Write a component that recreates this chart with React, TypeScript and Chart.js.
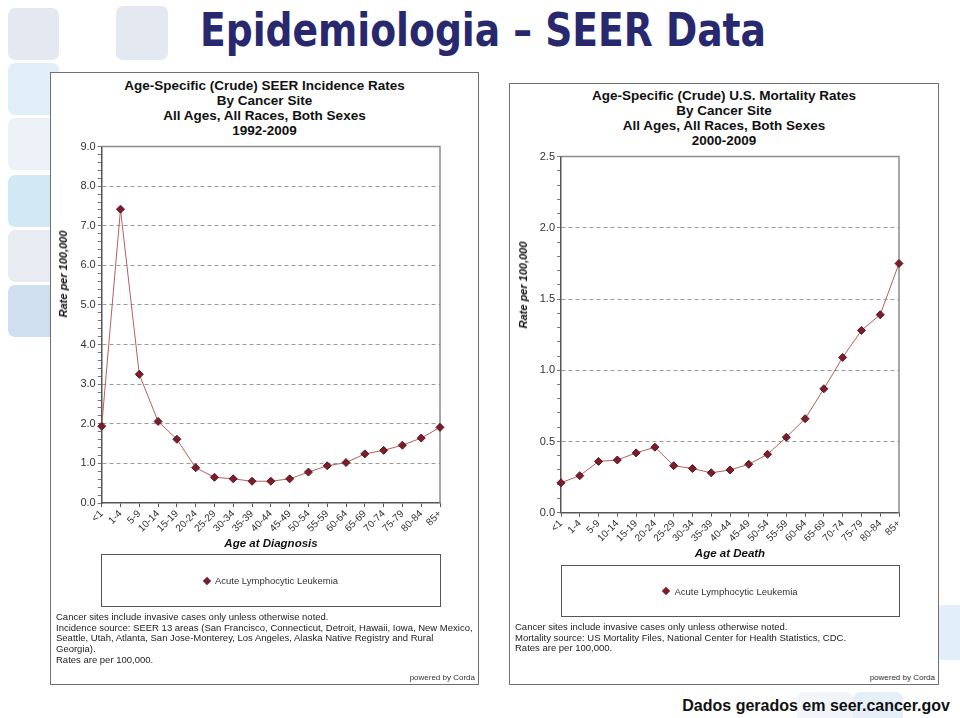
import React, { useEffect, useRef } from "react";
import { Chart, registerables } from "chart.js";

Chart.register(...registerables);

// ---------- data ----------
const ageGroups = ["<1", "1-4", "5-9", "10-14", "15-19", "20-24", "25-29", "30-34", "35-39", "40-44", "45-49", "50-54", "55-59", "60-64", "65-69", "70-74", "75-79", "80-84", "85+"];
const incidenceRates = [1.94, 7.42, 3.25, 2.06, 1.61, 0.89, 0.65, 0.61, 0.55, 0.55, 0.61, 0.78, 0.94, 1.02, 1.24, 1.33, 1.46, 1.64, 1.91];
const mortalityRates = [0.21, 0.26, 0.36, 0.37, 0.42, 0.46, 0.33, 0.31, 0.28, 0.30, 0.34, 0.41, 0.53, 0.66, 0.87, 1.09, 1.28, 1.39, 1.75];
const seriesName = "Acute Lymphocytic Leukemia";

const incidenceAxis = { max: 9, majorStep: 1, tickCount: 46 }; // minor ticks every 0.2
const mortalityAxis = { max: 2.5, majorStep: 0.5, tickCount: 26 }; // minor ticks every 0.1

const incidenceTitle = ["Age-Specific (Crude) SEER Incidence Rates", "By Cancer Site", "All Ages, All Races, Both Sexes", "1992-2009"];
const mortalityTitle = ["Age-Specific (Crude) U.S. Mortality Rates", "By Cancer Site", "All Ages, All Races, Both Sexes", "2000-2009"];
const incidenceNotes = [
  "Cancer sites include invasive cases only unless otherwise noted.",
  "Incidence source: SEER 13 areas (San Francisco, Connecticut, Detroit, Hawaii, Iowa, New Mexico,",
  "Seattle, Utah, Atlanta, San Jose-Monterey, Los Angeles, Alaska Native Registry and Rural",
  "Georgia).",
  "Rates are per 100,000.",
];
const mortalityNotes = [
  "Cancer sites include invasive cases only unless otherwise noted.",
  "Mortality source: US Mortality Files, National Center for Health Statistics, CDC.",
  "Rates are per 100,000.",
];

const FONT = '"Liberation Sans", Arial, Helvetica, sans-serif';

const plotFrame = {
  id: "plotFrame",
  beforeDatasetsDraw(chart: any) {
    const { ctx, chartArea } = chart;
    const { left, top, right, bottom } = chartArea;
    ctx.save();
    ctx.strokeStyle = "#8c8c8c";
    ctx.lineWidth = 1.5;
    ctx.beginPath();
    ctx.moveTo(left, top);
    ctx.lineTo(right, top);
    ctx.lineTo(right, bottom);
    ctx.stroke();
    ctx.restore();
  },
};

type ChartProps = {
  values: number[];
  axis: { max: number; majorStep: number; tickCount: number };
  left: number;
  top: number;
  width: number;
  height: number;
  yAxisWidth: number;
  padRight: number;
  padTop: number;
  xAxisHeight: number;
};

function RateChart(p: ChartProps) {
  const ref = useRef<HTMLCanvasElement>(null);
  useEffect(() => {
    const { max, majorStep, tickCount } = p.axis;
    const isMajor = (v: number) => Math.abs(v / majorStep - Math.round(v / majorStep)) < 1e-6;
    const chart = new Chart(ref.current as HTMLCanvasElement, {
      type: "line",
      data: {
        labels: ageGroups,
        datasets: [
          {
            label: seriesName,
            data: p.values,
            borderColor: "#b4605f",
            borderWidth: 1,
            tension: 0,
            pointStyle: "rectRot",
            pointRadius: 4,
            pointBackgroundColor: "#7c1d2b",
            pointBorderColor: "#5a1420",
            pointBorderWidth: 1,
            clip: false,
          } as any,
        ],
      },
      options: {
        animation: false,
        responsive: false,
        events: [],
        layout: { padding: { top: p.padTop, right: p.padRight, left: 0, bottom: 0 } },
        plugins: {
          legend: { display: false },
          title: { display: false },
          tooltip: { enabled: false },
        },
        scales: {
          x: {
            type: "category",
            offset: false,
            grid: { display: true, drawOnChartArea: false, drawTicks: true, tickLength: 4, tickColor: "#555" },
            border: { display: true, color: "#555", width: 1.5 },
            ticks: {
              autoSkip: false,
              maxRotation: 45,
              minRotation: 45,
              padding: 1,
              color: "#333",
              font: { size: 10, family: FONT },
            },
            afterFit: (s: any) => {
              s.height = p.xAxisHeight;
            },
          },
          y: {
            type: "linear",
            min: 0,
            max,
            ticks: {
              count: tickCount,
              autoSkip: false,
              padding: 2,
              color: "#333",
              font: { size: 11, family: FONT },
              callback: (v: any) => (isMajor(Number(v)) ? Number(v).toFixed(1) : ""),
            },
            grid: {
              color: (ctx: any) => {
                const v = ctx.tick ? ctx.tick.value : 0;
                return isMajor(v) && v > 0 && v < max ? "#9a9a9a" : "rgba(0,0,0,0)";
              },
              tickColor: "#777",
              tickLength: 4,
              lineWidth: 1,
            },
            border: { display: true, color: "#555", width: 1.5, dash: [4, 3] },
            afterFit: (s: any) => {
              s.width = p.yAxisWidth;
            },
          },
        },
      },
      plugins: [plotFrame],
    });
    return () => chart.destroy();
  }, []);
  return (
    <canvas
      ref={ref}
      width={p.width}
      height={p.height}
      style={{ position: "absolute", left: p.left, top: p.top, width: p.width, height: p.height }}
    />
  );
}

const decorations = [
  { x: 8, y: 8, w: 51, h: 52, c: "#e5e8f1" },
  { x: 116, y: 6, w: 52, h: 54, c: "#e3e8f1" },
  { x: 8, y: 63, w: 51, h: 52, c: "#e0eef8" },
  { x: 8, y: 118, w: 51, h: 52, c: "#edf1f8" },
  { x: 8, y: 175, w: 51, h: 52, c: "#d2e8f4" },
  { x: 8, y: 230, w: 51, h: 52, c: "#e8ebf1" },
  { x: 8, y: 285, w: 51, h: 52, c: "#cfdff0" },
  { x: 936, y: 605, w: 40, h: 55, c: "#e2eef8" },
  { x: 853, y: 692, w: 50, h: 40, c: "#e6eef8" },
  { x: 797, y: 692, w: 56, h: 40, c: "#f1f5fa" },
];

function Panel(props: {
  left: number;
  top: number;
  width: number;
  height: number;
  title: string[];
  titleTop: number;
  notes: string[];
  notesTop: number;
  xTitle: string;
  xTitleX: number;
  xTitleY: number;
  yTitleX: number;
  yTitleY: number;
  legend: { left: number; top: number; width: number; height: number };
  chart: ChartProps;
}) {
  const { left, top, width, height } = props;
  return (
    <>
      <div
        style={{
          position: "absolute",
          left,
          top,
          width,
          height,
          boxSizing: "border-box",
          border: "1.5px solid #6f6f6f",
          background: "#fff",
        }}
      />
      <div
        style={{
          position: "absolute",
          left,
          top: props.titleTop,
          width,
          textAlign: "center",
          fontFamily: FONT,
          fontWeight: "bold",
          fontSize: 13.5,
          lineHeight: "15px",
          color: "#111",
        }}
      >
        {props.title.map((t, i) => (
          <div key={i}>{t}</div>
        ))}
      </div>
      <RateChart {...props.chart} />
      <div
        style={{
          position: "absolute",
          left: props.yTitleX,
          top: props.yTitleY,
          transform: "translate(-50%, -50%) rotate(-90deg)",
          whiteSpace: "nowrap",
          fontFamily: FONT,
          fontWeight: "bold",
          fontStyle: "italic",
          fontSize: 11,
          color: "#111",
        }}
      >
        Rate per 100,000
      </div>
      <div
        style={{
          position: "absolute",
          left: props.xTitleX,
          top: props.xTitleY,
          transform: "translate(-50%, -50%)",
          whiteSpace: "nowrap",
          fontFamily: FONT,
          fontWeight: "bold",
          fontStyle: "italic",
          fontSize: 11.5,
          color: "#111",
        }}
      >
        {props.xTitle}
      </div>
      <div
        style={{
          position: "absolute",
          left: props.legend.left,
          top: props.legend.top,
          width: props.legend.width,
          height: props.legend.height,
          boxSizing: "border-box",
          border: "1.5px solid #555",
          display: "flex",
          alignItems: "center",
          justifyContent: "center",
          fontFamily: FONT,
          fontSize: 9.5,
          color: "#333",
        }}
      >
        <span
          style={{
            display: "inline-block",
            width: 6,
            height: 6,
            background: "#7c1d2b",
            transform: "rotate(45deg)",
            marginRight: 5,
          }}
        />
        <span>{seriesName}</span>
      </div>
      <div
        style={{
          position: "absolute",
          left: left + 6,
          top: props.notesTop,
          fontFamily: FONT,
          fontSize: 9.5,
          lineHeight: "10.7px",
          color: "#222",
          whiteSpace: "nowrap",
        }}
      >
        {props.notes.map((t, i) => (
          <div key={i}>{t}</div>
        ))}
      </div>
      <div
        style={{
          position: "absolute",
          right: 960 - (left + width) + 4,
          top: top + height - 12,
          fontFamily: FONT,
          fontSize: 8,
          color: "#333",
          whiteSpace: "nowrap",
        }}
      >
        powered by Corda
      </div>
    </>
  );
}

export default function App() {
  return (
    <div
      style={{
        position: "fixed",
        left: 0,
        top: 0,
        width: 960,
        height: 718,
        overflow: "hidden",
        background: "#fff",
      }}
    >
      {decorations.map((d, i) => (
        <div
          key={i}
          style={{
            position: "absolute",
            left: d.x,
            top: d.y,
            width: d.w,
            height: d.h,
            background: d.c,
            borderRadius: 7,
          }}
        />
      ))}
      <div
        style={{
          position: "absolute",
          left: 200,
          top: 7,
          fontFamily: '"Liberation Sans Narrow", "DejaVu Sans Condensed", sans-serif',
          fontWeight: "bold",
          fontSize: 46,
          lineHeight: "46px",
          color: "#28286f",
          whiteSpace: "nowrap",
          transform: "scaleX(0.91)",
          transformOrigin: "left center",
        }}
      >
        Epidemiologia – SEER Data
      </div>
      <Panel
        left={50}
        top={72}
        width={429}
        height={613}
        title={incidenceTitle}
        titleTop={78}
        notes={incidenceNotes}
        notesTop={612}
        xTitle="Age at Diagnosis"
        xTitleX={271}
        xTitleY={543}
        yTitleX={63}
        yTitleY={274}
        legend={{ left: 101, top: 554, width: 340, height: 53 }}
        chart={{
          values: incidenceRates,
          axis: incidenceAxis,
          left: 51,
          top: 138,
          width: 427,
          height: 417,
          yAxisWidth: 50.7,
          padRight: 38,
          padTop: 7,
          xAxisHeight: 52,
        }}
      />
      <Panel
        left={509}
        top={83}
        width={430}
        height={602}
        title={mortalityTitle}
        titleTop={88}
        notes={mortalityNotes}
        notesTop={622}
        xTitle="Age at Death"
        xTitleX={730}
        xTitleY={553}
        yTitleX={523}
        yTitleY={285}
        legend={{ left: 561, top: 565, width: 339, height: 52 }}
        chart={{
          values: mortalityRates,
          axis: mortalityAxis,
          left: 510,
          top: 148,
          width: 428,
          height: 417,
          yAxisWidth: 51,
          padRight: 39,
          padTop: 7.7,
          xAxisHeight: 52.3,
        }}
      />
      <div
        style={{
          position: "absolute",
          right: 10,
          top: 696,
          fontFamily: FONT,
          fontWeight: "bold",
          fontSize: 16,
          lineHeight: "19px",
          color: "#111",
          whiteSpace: "nowrap",
        }}
      >
        Dados gerados em seer.cancer.gov
      </div>
    </div>
  );
}
